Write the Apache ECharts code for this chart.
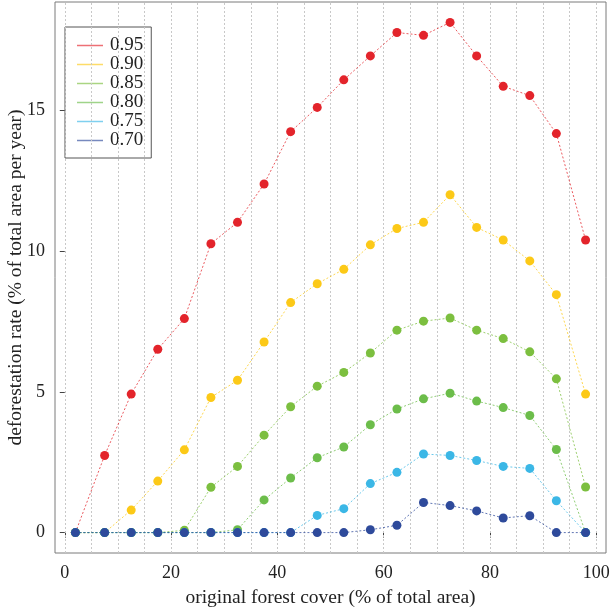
<!DOCTYPE html>
<html>
<head>
<meta charset="utf-8">
<script src="https://cdn.jsdelivr.net/npm/echarts@6/dist/echarts.min.js"></script>
<style>html,body{margin:0;padding:0;background:#fff;}#c{width:612px;height:607px;}</style>
</head>
<body>
<div id="c"></div>
<script>
const xValues = [2, 7.5, 12.5, 17.5, 22.5, 27.5, 32.5, 37.5, 42.5, 47.5, 52.5, 57.5, 62.5, 67.5, 72.5, 77.5, 82.5, 87.5, 92.5, 98];
const seriesNames = ['0.95', '0.90', '0.85', '0.80', '0.75', '0.70'];
const s095 = [0, 2.74, 4.92, 6.51, 7.6, 10.26, 11.02, 12.38, 14.24, 15.1, 16.08, 16.93, 17.76, 17.66, 18.12, 16.93, 15.85, 15.52, 14.17, 10.39];
const s090 = [0, 0, 0.80, 1.83, 2.94, 4.8, 5.41, 6.77, 8.17, 8.84, 9.35, 10.22, 10.8, 11.02, 12.0, 10.84, 10.39, 9.65, 8.45, 4.92];
const s085 = [0, 0, 0, 0, 0.08, 1.61, 2.35, 3.46, 4.47, 5.2, 5.69, 6.38, 7.19, 7.51, 7.62, 7.19, 6.89, 6.42, 5.46, 1.62];
const s080 = [0, 0, 0, 0, 0, 0, 0.1, 1.16, 1.94, 2.66, 3.04, 3.83, 4.39, 4.75, 4.95, 4.67, 4.44, 4.16, 2.95, 0];
const s075 = [0, 0, 0, 0, 0, 0, 0, 0, 0, 0.61, 0.85, 1.74, 2.14, 2.79, 2.74, 2.56, 2.35, 2.28, 1.13, 0];
const s070 = [0, 0, 0, 0, 0, 0, 0, 0, 0, 0, 0, 0.1, 0.26, 1.07, 0.96, 0.77, 0.52, 0.6, 0, 0];
const xTicks = [0, 20, 40, 60, 80, 100];
const yTicks = [0, 5, 10, 15];
const xGridLines = [0, 5, 10, 15, 20, 25, 30, 35, 40, 45, 50, 55, 60, 65, 70, 75, 80, 85, 90, 95, 100];

const colors = ['#e3242b', '#fcc917', '#7cbf3f', '#6cbd4a', '#3bb7e6', '#2e4a9b'];
const allSeries = [s095, s090, s085, s080, s075, s070];
const font = "'Liberation Serif', 'Times New Roman', serif";

// R-style 4% axis expansion
const xmin = 2 - 0.04 * 96, xmax = 98 + 0.04 * 96;
const ymaxData = 18.12;
const ymin = -0.04 * ymaxData, ymax = ymaxData * 1.04;

const series = allSeries.map((vals, i) => ({
  name: seriesNames[i],
  type: 'line',
  data: vals.map((v, j) => [xValues[j], v]),
  symbol: 'circle',
  symbolSize: 9,
  z: 10 + i,
  itemStyle: { color: colors[i] },
  lineStyle: { color: colors[i], width: 1, type: [2, 2], opacity: 0.75 },
  emphasis: { disabled: true },
  animation: false
}));

series.unshift({
  type: 'line',
  data: [],
  silent: true,
  animation: false,
  markLine: {
    silent: true,
    symbol: 'none',
    label: { show: false },
    lineStyle: { color: '#c8c8c8', width: 1, type: [2, 2] },
    data: xGridLines.map(v => ({ xAxis: v }))
  }
});

const chart = echarts.init(document.getElementById('c'), null, { renderer: 'canvas' });
chart.setOption({
  animation: false,
  backgroundColor: '#fff',
  grid: {
    left: 55, right: 6, top: 2, bottom: 54,
    show: true, borderColor: '#7a7a7a', borderWidth: 1, containLabel: false,
    outerBoundsMode: 'none'
  },
  legend: {
    show: true,
    data: seriesNames.map((n, i) => ({ name: n, itemStyle: { color: colors[i], opacity: 0.65 } })),
    orient: 'vertical',
    left: 65, top: 27,
    padding: [9, 8, 8, 12],
    itemGap: 0,
    itemWidth: 26,
    itemHeight: 1.5,
    icon: 'rect',
    backgroundColor: '#fff',
    borderColor: '#555',
    borderWidth: 1,
    textStyle: { fontFamily: font, fontSize: 19, color: '#222', lineHeight: 17.6, padding: [0, 0, 0, 2] }
  },
  xAxis: {
    type: 'value',
    min: xmin, max: xmax,
    name: 'original forest cover (% of total area)',
    nameLocation: 'middle',
    nameGap: 35,
    nameTextStyle: { fontFamily: font, fontSize: 19.5, color: '#222' },
    axisLine: { show: false },
    axisTick: { show: true, inside: false, length: 5, customValues: xTicks, lineStyle: { color: '#444' } },
    axisLabel: { customValues: xTicks, fontFamily: font, fontSize: 18, color: '#222', margin: 11 },
    splitLine: { show: false }
  },
  yAxis: {
    type: 'value',
    min: ymin, max: ymax,
    name: 'deforestation rate (% of total area per year)',
    nameLocation: 'middle',
    nameGap: 29,
    nameMoveOverlap: false,
    nameTextStyle: { fontFamily: font, fontSize: 19.5, color: '#222' },
    axisLine: { show: false },
    axisTick: { show: true, inside: false, length: 5, customValues: yTicks, lineStyle: { color: '#444' } },
    axisLabel: { customValues: yTicks, fontFamily: font, fontSize: 18, color: '#222', margin: 10 },
    splitLine: { show: false }
  },
  series: series
});
</script>
</body>
</html>
